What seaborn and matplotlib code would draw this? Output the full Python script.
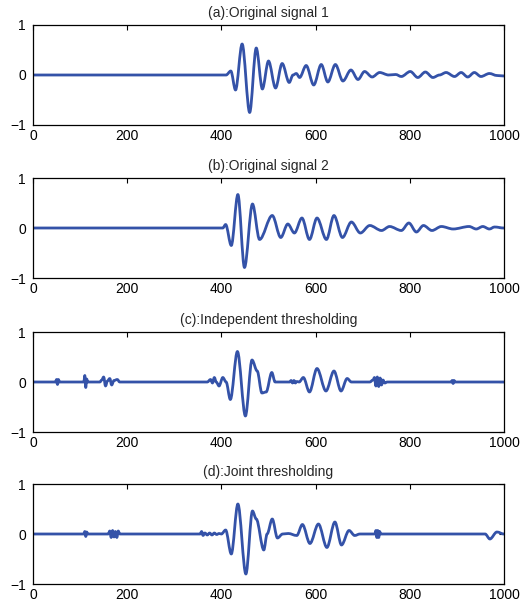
import matplotlib
matplotlib.use("Agg")
import matplotlib.pyplot as plt
from matplotlib.path import Path
from matplotlib.patches import PathPatch
import seaborn as sns
import pandas as pd

# ---- data (extrema / breakpoints) ----
s1_x = [0, 410, 420, 430, 444, 460, 474, 487, 500, 515, 529, 544, 552, 559, 566, 580, 596, 612, 626,
        642, 658, 675, 690, 704, 720, 736, 755, 770, 782, 801, 817, 833, 849, 863, 877, 895, 909, 923,
        937, 951, 969, 985, 1000]
s1_y = [0, 0, 0.08, -0.30, 0.62, -0.75, 0.54, -0.28, 0.28, -0.26, 0.23, -0.15, 0.0, 0.03, -0.05, 0.19,
        -0.20, 0.21, -0.14, 0.21, -0.12, 0.10, -0.09, 0.07, -0.04, 0.05, 0.0, 0.01, -0.03, 0.07, -0.05,
        0.06, -0.05, 0.0, 0.05, -0.03, 0.05, -0.04, 0.05, -0.03, 0.03, -0.01, -0.02]

s2_x = [0, 403, 409, 421, 435, 449, 466, 481, 508, 526, 541, 555, 571, 587, 603, 623, 639, 657, 676,
        695, 715, 740, 757, 782, 798, 814, 829, 847, 867, 892, 926, 941, 955, 969, 980, 1000]
s2_y = [0, 0, 0.07, -0.35, 0.67, -0.79, 0.48, -0.23, 0.25, -0.19, 0.08, -0.10, 0.20, -0.23, 0.20, -0.23,
        0.25, -0.19, 0.12, -0.10, 0.05, -0.05, 0.03, -0.05, 0.10, -0.08, 0.05, -0.05, 0.03, -0.02, 0.03,
        -0.02, 0.03, -0.02, 0.02, 0.0]

s3_x = [0, 48, 50, 52, 54, 56, 108, 110, 112, 114, 116, 142, 146, 150, 154, 158, 163, 167, 172, 179,
        184, 370, 377, 381, 385, 389, 395, 403, 410, 419, 434, 451, 465, 476, 486, 495, 507, 514, 520,
        545, 548, 551, 554, 557, 560, 565, 574, 587, 603, 622, 639, 654, 667, 676, 715, 722, 725, 728,
        731, 734, 737, 740, 743, 747, 752, 888, 890, 892, 894, 896, 1000]
s3_y = [0, 0, 0.05, -0.05, 0.05, 0, 0, 0.13, -0.11, 0.06, 0, 0, 0.04, 0.10, -0.08, 0.02, 0.07, -0.06,
        0.03, 0.05, 0, 0, 0.05, -0.02, 0.09, 0.0, -0.08, 0.09, 0.0, -0.35, 0.61, -0.68, 0.44, 0.22,
        -0.22, -0.20, 0.19, 0.0, 0.0, 0.0, 0.03, -0.02, 0.03, -0.02, 0.01, 0.0, 0.09, -0.20, 0.27, -0.18,
        0.22, -0.18, 0.07, 0.0, 0.0, 0.04, 0.09, -0.08, 0.10, -0.09, 0.08, -0.06, 0.04, -0.02, 0, 0,
        0.03, -0.03, 0.03, 0, 0]

s4_x = [0, 108, 110, 112, 114, 116, 160, 163, 166, 169, 172, 175, 178, 181, 184, 355, 358, 361, 365,
        370, 375, 380, 385, 390, 395, 400, 409, 421, 435, 452, 466, 474, 490, 497, 508, 519, 530, 542,
        560, 572, 588, 606, 624, 641, 655, 671, 683, 694, 726, 728, 730, 732, 734, 736, 738, 960, 970,
        985, 1000]
s4_y = [0, 0, 0.05, -0.05, 0.04, 0, 0, 0.06, -0.07, 0.07, -0.06, 0.05, -0.07, 0.06, 0, 0, 0.05, -0.03,
        0.02, -0.02, 0.02, -0.02, 0.02, -0.01, 0.01, 0.0, 0.08, -0.40, 0.60, -0.80, 0.46, 0.30, -0.32,
        0.0, 0.30, -0.08, 0.0, 0.01, -0.03, 0.19, -0.19, 0.20, -0.27, 0.24, -0.22, 0.07, -0.03, 0.0, 0,
        0.07, -0.07, 0.07, -0.07, 0.05, 0, 0, -0.10, 0.04, 0.0]

titles = ["(a):Original signal 1", "(b):Original signal 2",
          "(c):Independent thresholding", "(d):Joint thresholding"]
x_ticks = [0, 200, 400, 600, 800, 1000]
y_ticks = [-1, 0, 1]
y_ticklabels = ["\u22121", "0", "1"]

series = [(s1_x, s1_y), (s2_x, s2_y), (s3_x, s3_y), (s4_x, s4_y)]

sns.set_style("white")
plt.rcParams["font.family"] = ["Liberation Sans", "DejaVu Sans"]

W, H = 528, 609
fig = plt.figure(figsize=(W / 100, H / 100), dpi=100)
color = "#3452a8"
lw = 2.0

tops_px = [25, 178, 332, 484]
height_px = 100
left_px, right_px = 33, 504


def smooth_path(xs, ys):
    # draw the read breakpoints as a smooth curve: cubic Bezier segments with
    # horizontal tangents at every breakpoint (rounded crests like the original)
    verts = [(xs[0], ys[0])]
    codes = [Path.MOVETO]
    for (x0, y0), (x1, y1) in zip(zip(xs[:-1], ys[:-1]), zip(xs[1:], ys[1:])):
        d = (x1 - x0) / 3.0
        verts += [(x0 + d, y0), (x1 - d, y1), (x1, y1)]
        codes += [Path.CURVE4] * 3
    return Path(verts, codes)


for i, ((xs, ys), title) in enumerate(zip(series, titles)):
    top = tops_px[i]
    ax = fig.add_axes([left_px / W, 1 - (top + height_px) / H,
                       (right_px - left_px) / W, height_px / H])
    df = pd.DataFrame({"x": xs, "y": ys})
    sns.lineplot(data=df, x="x", y="y", ax=ax, color=color, linewidth=lw,
                 sort=False, estimator=None)
    base = ax.lines[-1]
    base.set_visible(False)
    xd, yd = base.get_xdata(), base.get_ydata()
    patch = PathPatch(smooth_path(list(xd), list(yd)), facecolor="none",
                      edgecolor=color, linewidth=lw, joinstyle="round",
                      capstyle="round")
    ax.add_patch(patch)
    ax.set_xlim(0, 1000)
    ax.set_ylim(-1, 1)
    ax.set_xticks(x_ticks)
    ax.set_xticklabels([str(t) for t in x_ticks])
    ax.set_yticks(y_ticks)
    ax.set_yticklabels(y_ticklabels)
    ax.set_xlabel("")
    ax.set_ylabel("")
    ax.tick_params(direction="in", top=True, right=True, length=3.5, width=0.8,
                   labelsize=10, pad=3, colors="black")
    ax.tick_params(axis="y", pad=5)
    for sp in ax.spines.values():
        sp.set_color("black")
        sp.set_linewidth(0.9)
    ax.set_title(title, fontsize=10, pad=6)

fig.savefig("out.png", dpi=100)
